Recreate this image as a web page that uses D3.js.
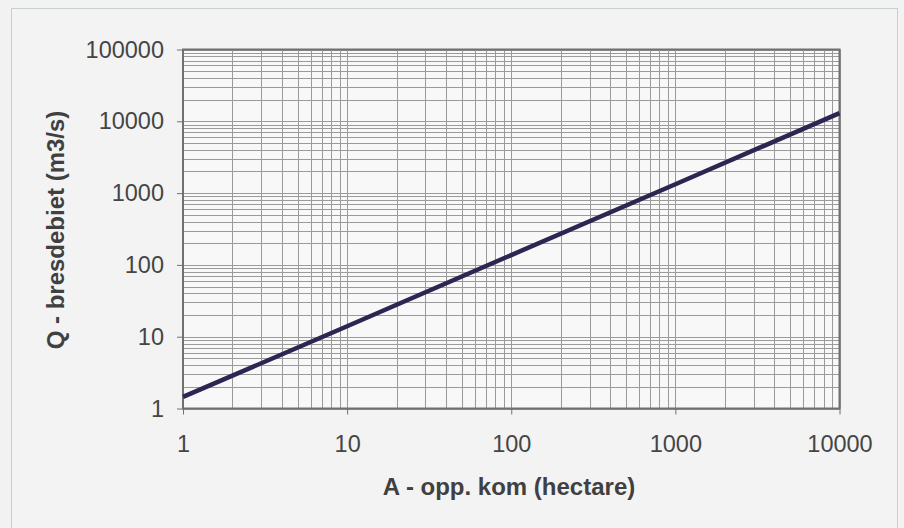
<!DOCTYPE html>
<html><head><meta charset="utf-8">
<script src="https://cdn.jsdelivr.net/npm/d3@7"></script>
<style>
body{margin:0;background:#f2f2f2;}
svg{display:block;font-family:"Liberation Sans",Arial,sans-serif;}
</style></head>
<body>
<svg id="chart" width="904" height="528"></svg>
<script>
// Data
const areaHa = [1, 10, 100, 1000, 10000];
const discharge = [1.45, 14, 137, 1330, 13000];
const xTicks = [1, 10, 100, 1000, 10000];
const yTicks = [1, 10, 100, 1000, 10000, 100000];
const xTitle = "A - opp. kom (hectare)";
const yTitle = "Q - bresdebiet (m3/s)";

const svg = d3.select("#chart");
const W = 904, H = 528;
const m = {left: 183, right: 839.5, top: 49.5, bottom: 408.5};

svg.append("rect").attr("x", 0).attr("y", 0).attr("width", W).attr("height", H).attr("fill", "#f2f2f2");
// outer chart border
svg.append("rect").attr("x", 11.5).attr("y", 8.5).attr("width", 886).attr("height", 540)
  .attr("fill", "#f3f3f3").attr("stroke", "#c8cfcf").attr("stroke-width", 1);

const x = d3.scaleLog().domain([1, 10000]).range([m.left, m.right]);
const y = d3.scaleLog().domain([1, 100000]).range([m.bottom, m.top]);

svg.append("rect").attr("x", m.left).attr("y", m.top)
  .attr("width", m.right - m.left).attr("height", m.bottom - m.top).attr("fill", "#f8f8f8");

// gridlines (major + minor)
const xGrid = x.ticks();
const yGrid = y.ticks();
svg.append("g").selectAll("line").data(xGrid).join("line")
  .attr("x1", d => Math.round(x(d)) + 0.5).attr("x2", d => Math.round(x(d)) + 0.5)
  .attr("y1", m.top).attr("y2", m.bottom)
  .attr("stroke", "#9a9a9a").attr("stroke-width", 1);
svg.append("g").selectAll("line").data(yGrid).join("line")
  .attr("y1", d => Math.round(y(d)) + 0.5).attr("y2", d => Math.round(y(d)) + 0.5)
  .attr("x1", m.left).attr("x2", m.right)
  .attr("stroke", "#9a9a9a").attr("stroke-width", 1);

// plot frame
svg.append("rect").attr("x", m.left).attr("y", m.top)
  .attr("width", m.right - m.left).attr("height", m.bottom - m.top)
  .attr("fill", "none").attr("stroke", "#707070").attr("stroke-width", 2);

// axes
const xAxis = svg.append("g").attr("transform", `translate(0,${m.bottom})`)
  .call(d3.axisBottom(x).tickValues(xTicks).tickFormat(d3.format("d")).tickSize(6).tickPadding(21));
const yAxis = svg.append("g").attr("transform", `translate(${m.left},0)`)
  .call(d3.axisLeft(y).tickValues(yTicks).tickFormat(d3.format("d")).tickSize(6).tickPadding(13));
[xAxis, yAxis].forEach(g => {
  g.select(".domain").remove();
  g.selectAll(".tick line").attr("stroke", "#707070").attr("stroke-width", 1);
  g.selectAll(".tick text").attr("fill", "#454545").attr("font-size", 23.5)
    .attr("font-family", "'Liberation Sans', Arial, sans-serif");
});

// line
const line = d3.line().x((d, i) => x(areaHa[i])).y(d => y(d));
svg.append("path").datum(discharge).attr("d", line)
  .attr("fill", "none").attr("stroke", "#2b2752").attr("stroke-width", 4.5);

// titles
svg.append("text").attr("x", 509).attr("y", 495)
  .attr("text-anchor", "middle").attr("font-size", 24).attr("font-weight", "bold")
  .attr("fill", "#404040").text(xTitle);
svg.append("text").attr("transform", `translate(64,230) rotate(-90)`)
  .attr("text-anchor", "middle").attr("font-size", 24).attr("font-weight", "bold")
  .attr("fill", "#404040").text(yTitle);
</script>
</body></html>
